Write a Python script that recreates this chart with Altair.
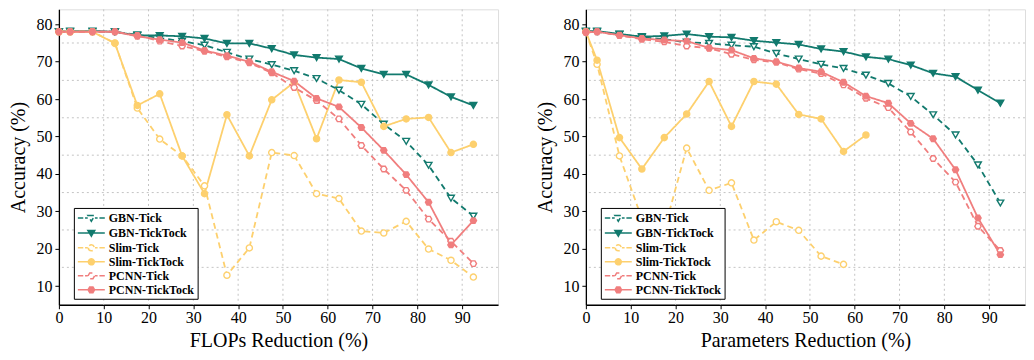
import altair as alt
import pandas as pd

SERIF = "Liberation Serif"

SERIES = ["GBN-Tick", "GBN-TickTock", "Slim-Tick", "Slim-TickTock", "PCNN-Tick", "PCNN-TickTock"]
TEAL, YELLOW, RED = "#127a6e", "#fdd06e", "#f07e7e"
COLORS = [TEAL, TEAL, YELLOW, YELLOW, RED, RED]
FILLS = ["#ffffff", TEAL, "#ffffff", YELLOW, "#ffffff", RED]
DASHES = [[6, 4], [1, 0], [6, 4], [1, 0], [6, 4], [1, 0]]

X_POS = [0, 2.5, 7.5, 12.5, 17.5, 22.5, 27.5, 32.5, 37.5, 42.5, 47.5,
         52.5, 57.5, 62.5, 67.5, 72.5, 77.5, 82.5, 87.5, 92.5]
X_TICKS = [0, 10, 20, 30, 40, 50, 60, 70, 80, 90]
Y_TICKS = [10, 20, 30, 40, 50, 60, 70, 80]
GRID_X = [10, 20, 30, 40, 50, 60, 70, 80, 90]
GRID_Y = [15, 25, 35, 45, 55, 65, 75]

# FLOPs reduction panel
FLOPS_GBN_TICK = [78, 78, 78, 78, 77.2, 76.3, 75.5, 74.4, 72.5, 70.7, 69.2, 67.6, 65.5, 62.4, 58.6, 53.3, 48.7, 42.3, 33.5, 28.7]
FLOPS_GBN_TICKTOCK = [78, 78.2, 78.2, 78, 77, 77, 76.8, 76.2, 74.9, 74.9, 73.5, 71.8, 71.1, 70.7, 68.2, 66.6, 66.6, 63.8, 60.6, 58.3]
FLOPS_SLIM_TICK = [78, 78, 78, 75, 57.6, 49.3, 44.8, 36.8, 12.9, 20.2, 45.7, 44.9, 34.7, 33.4, 24.7, 24.2, 27.3, 19.9, 16.9, 12.4]
FLOPS_SLIM_TICKTOCK = [78, 78, 78, 74.9, 58.3, 61.4, 44.8, 34.7, 55.8, 44.8, 59.8, 64.5, 49.4, 65.1, 64.5, 52.7, 54.7, 55.1, 45.7, 47.9]
FLOPS_PCNN_TICK = [78, 78, 78, 78, 77, 75.5, 74.2, 72.8, 71.3, 69.7, 67.0, 63.1, 59.6, 54.7, 47.6, 41.3, 35.6, 27.9, 22, 16]
FLOPS_PCNN_TICKTOCK = [78, 78, 78, 78, 76.8, 75.9, 75.1, 73, 71.6, 70, 67.3, 64.8, 60.2, 57.9, 52.4, 46.3, 39.8, 32.4, 21, 27.5]

# Parameters reduction panel
PARAMS_GBN_TICK = [78, 78, 77.3, 76.5, 76.0, 75.2, 74.9, 74.4, 74.0, 72.2, 70.7, 69.3, 68.2, 66.4, 64.2, 60.7, 55.8, 50.4, 42.4, 32.2]
PARAMS_GBN_TICKTOCK = [78.2, 78.2, 77.4, 76.7, 76.9, 77.4, 76.7, 76.5, 75.6, 75.1, 74.6, 73.4, 72.7, 71.3, 70.7, 69.1, 66.9, 66, 62.4, 58.9]
PARAMS_SLIM_TICK = [78, 69.3, 44.8, 28, 25, 46.9, 35.6, 37.6, 22.3, 27.2, 24.9, 18, 15.8]
PARAMS_SLIM_TICKTOCK = [78, 70.4, 49.7, 41.3, 49.7, 56, 64.7, 52.7, 64.7, 64, 55.9, 54.7, 46, 50.4]
PARAMS_PCNN_TICK = [78, 78, 77, 76, 75.3, 74.2, 73.6, 72, 70.5, 69.8, 68, 66.8, 63.8, 60.2, 57.7, 51.2, 44.1, 37.8, 26, 19.5]
PARAMS_PCNN_TICKTOCK = [77.8, 78, 77.1, 76.2, 75.8, 75.5, 73.7, 73.1, 70.9, 70, 68.3, 67.3, 64.5, 60.8, 58.9, 53.5, 49.4, 41.1, 28.2, 18.4]

# legend symbols: line segment(s) + marker as SVG paths (1 unit = 6 px at size 144)
DASH_SEG = "M-1,0H-0.1M0.2,0H0.65M1.85,0H2.3M2.6,0H3.5"
SOLID_SEG = "M-1,0H3.5"
TRI = "M0.67,-0.42L1.83,-0.42L1.25,0.55Z"
CIRC = "M0.75,0A0.5,0.5,0,1,0,1.75,0A0.5,0.5,0,1,0,0.75,0Z"
HEX = "M0.7,0L0.975,-0.476L1.525,-0.476L1.8,0L1.525,0.476L0.975,0.476Z"
LEGEND_SHAPES = [DASH_SEG + TRI, SOLID_SEG + TRI, DASH_SEG + CIRC,
                 SOLID_SEG + CIRC, DASH_SEG + HEX, SOLID_SEG + HEX]
HEX_MARK = "M-1,0L-0.5,-0.866L0.5,-0.866L1,0L0.5,0.866L-0.5,0.866Z"


def make_df(values):
    rows = []
    for name, ys in zip(SERIES, values):
        for xv, yv in zip(X_POS, ys):
            rows.append({"x": xv, "acc": yv, "series": name})
    return pd.DataFrame(rows)


def panel(df, xtitle):
    xscale = alt.Scale(domain=[0, 98], nice=False, zero=False)
    yscale = alt.Scale(domain=[5, 84], nice=False, zero=False)
    xaxis = alt.Axis(values=X_TICKS, title=xtitle, grid=False, tickSize=4,
                     tickColor="black", domainColor="black", domainWidth=1.3,
                     labelFont=SERIF, labelFontSize=16, labelColor="black",
                     labelPadding=1, labelFlush=False, titleFont=SERIF,
                     titleFontSize=20, titleFontWeight="normal",
                     titleColor="black", titlePadding=5)
    yaxis = alt.Axis(values=Y_TICKS, title="Accuracy (%)", grid=False, tickSize=4,
                     tickColor="black", domainColor="black", domainWidth=1.3,
                     labelFont=SERIF, labelFontSize=16, labelColor="black",
                     labelPadding=3, labelFlush=False, titleFont=SERIF,
                     titleFontSize=20, titleFontWeight="normal",
                     titleColor="black", titlePadding=7)
    X = alt.X("x:Q", scale=xscale, axis=xaxis)
    Y = alt.Y("acc:Q", scale=yscale, axis=yaxis)
    cscale = alt.Scale(domain=SERIES, range=COLORS)
    fscale = alt.Scale(domain=SERIES, range=FILLS)
    dscale = alt.Scale(domain=SERIES, range=DASHES)
    sscale = alt.Scale(domain=SERIES, range=LEGEND_SHAPES)

    leg = alt.Legend(title=None, orient="none", legendX=15, legendY=199,
                     symbolSize=144, symbolStrokeWidth=1.5, symbolOpacity=1,
                     labelFont=SERIF, labelFontSize=12, labelFontWeight="bold",
                     labelColor="black", labelOffset=18, rowPadding=1,
                     padding=3, strokeColor="black", fillColor="white",
                     cornerRadius=0, zindex=1)
    # legend-only layer (no rows drawn), listed first so its legend wins the merge
    legend_layer = alt.Chart(df).transform_filter("false").mark_point(
        size=144, opacity=1, strokeWidth=1.5).encode(
        x=X, y=Y,
        color=alt.Color("series:N", scale=cscale, legend=leg),
        fill=alt.Fill("series:N", scale=fscale, legend=leg),
        shape=alt.Shape("series:N", scale=sscale, legend=leg),
    )

    grid_v = alt.Chart(pd.DataFrame({"x": GRID_X})).mark_rule(
        color="#c4c4c4", strokeWidth=1, strokeDash=[2, 3]).encode(x=X)
    grid_h = alt.Chart(pd.DataFrame({"acc": GRID_Y})).mark_rule(
        color="#c4c4c4", strokeWidth=1, strokeDash=[2, 3]).encode(y=Y)

    lines = alt.Chart(df).mark_line(strokeWidth=1.8, opacity=1).encode(
        x=X, y=Y,
        color=alt.Color("series:N", scale=cscale, legend=None),
        strokeDash=alt.StrokeDash("series:N", scale=dscale, legend=None),
        detail="series:N",
    )

    def pts(names, shape, size):
        return alt.Chart(df).transform_filter(
            alt.FieldOneOfPredicate(field="series", oneOf=names)
        ).mark_point(shape=shape, size=size, strokeWidth=1.4, opacity=1).encode(
            x=X, y=Y,
            color=alt.Color("series:N", scale=cscale, legend=None),
            fill=alt.Fill("series:N", scale=fscale, legend=None),
        )

    p_gbn = pts(SERIES[0:2], "triangle-down", 46)
    p_slim = pts(SERIES[2:4], "circle", 38)
    p_pcnn = pts(SERIES[4:6], HEX_MARK, 40)

    return alt.layer(legend_layer, grid_v, grid_h, lines, p_gbn, p_slim,
                     p_pcnn).properties(width=440, height=296)


flops_df = make_df([FLOPS_GBN_TICK, FLOPS_GBN_TICKTOCK, FLOPS_SLIM_TICK,
                    FLOPS_SLIM_TICKTOCK, FLOPS_PCNN_TICK, FLOPS_PCNN_TICKTOCK])
params_df = make_df([PARAMS_GBN_TICK, PARAMS_GBN_TICKTOCK, PARAMS_SLIM_TICK,
                     PARAMS_SLIM_TICKTOCK, PARAMS_PCNN_TICK, PARAMS_PCNN_TICKTOCK])

chart = alt.hconcat(
    panel(flops_df, "FLOPs Reduction (%)"),
    panel(params_df, "Parameters Reduction (%)"),
    spacing=36,
).resolve_scale(
    color="independent", fill="independent", shape="independent",
    strokeDash="independent"
).resolve_legend(
    color="independent", fill="independent", shape="independent"
).properties(
    padding={"left": 0, "top": 0, "right": 0, "bottom": 0}
).configure_view(stroke=None).configure(background="white")

chart.save("out.html", embed_options={"renderer": "svg", "actions": False})
